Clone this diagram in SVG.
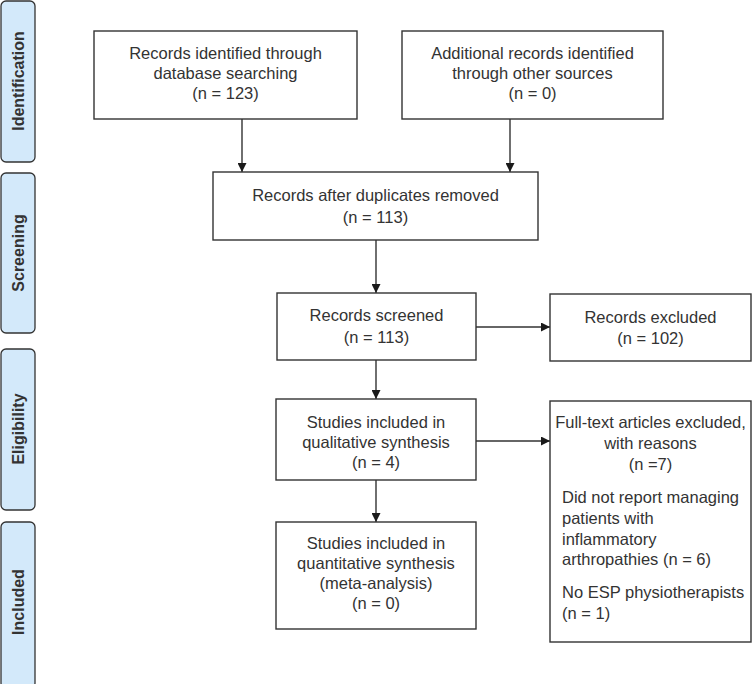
<svg xmlns="http://www.w3.org/2000/svg" width="752" height="684" viewBox="0 0 752 684">
<defs>
<marker id="ah" viewBox="0 0 10 10" refX="10" refY="5" markerWidth="9" markerHeight="9" markerUnits="userSpaceOnUse" orient="auto">
<path d="M0,0 L10,5 L0,10 z" fill="#1a1a1a"/>
</marker>
<style>
.bar{fill:#d3e9fa;stroke:#333;stroke-width:1.3}
.bt{font-family:"Liberation Sans",Arial,sans-serif;font-weight:bold;font-size:16px;fill:#333;text-anchor:middle}
.box{fill:#fff;stroke:#333;stroke-width:1.4}
.t{font-family:"Liberation Sans",Arial,sans-serif;font-size:16.5px;fill:#333;text-anchor:middle}
.tl{font-family:"Liberation Sans",Arial,sans-serif;font-size:16.5px;fill:#333}
.c{stroke:#333;stroke-width:1.4;fill:none;marker-end:url(#ah)}
</style>
</defs>
<rect width="752" height="684" fill="#fff"/>
<g id="stage-identification"><rect class="bar" x="1" y="1" width="34" height="161" rx="5"/><text class="bt" transform="translate(24,81) rotate(-90)">Identification</text></g>
<g id="stage-screening"><rect class="bar" x="1" y="173" width="34" height="160" rx="5"/><text class="bt" transform="translate(24,253) rotate(-90)">Screening</text></g>
<g id="stage-eligibility"><rect class="bar" x="1" y="349" width="34" height="161" rx="5"/><text class="bt" transform="translate(24,429) rotate(-90)">Eligibility</text></g>
<g id="stage-included"><rect class="bar" x="1" y="522" width="34" height="166" rx="5"/><text class="bt" transform="translate(24,602) rotate(-90)">Included</text></g>

<g id="connectors">
<line class="c" x1="242" y1="119" x2="242" y2="172"/>
<line class="c" x1="510" y1="119" x2="510" y2="172"/>
<line class="c" x1="376" y1="240" x2="376" y2="293"/>
<line class="c" x1="476" y1="327" x2="550" y2="327"/>
<line class="c" x1="376" y1="360" x2="376" y2="399"/>
<line class="c" x1="476" y1="441" x2="550" y2="441"/>
<line class="c" x1="376" y1="480" x2="376" y2="522"/>
</g>

<g id="n1"><rect class="box" x="94" y="31" width="263" height="88"/>
<text class="t" x="225.5" y="59">Records identified through</text>
<text class="t" x="225.5" y="79">database searching</text>
<text class="t" x="225.5" y="99">(n = 123)</text></g>

<g id="n2"><rect class="box" x="402" y="31" width="261" height="88"/>
<text class="t" x="532.5" y="59">Additional records identified</text>
<text class="t" x="532.5" y="79">through other sources</text>
<text class="t" x="532.5" y="99">(n = 0)</text></g>

<g id="n3"><rect class="box" x="213" y="172" width="325" height="68"/>
<text class="t" x="375.5" y="201">Records after duplicates removed</text>
<text class="t" x="375.5" y="223">(n = 113)</text></g>

<g id="n4"><rect class="box" x="277" y="293" width="199" height="67"/>
<text class="t" x="376.5" y="321">Records screened</text>
<text class="t" x="376.5" y="343">(n = 113)</text></g>

<g id="n5"><rect class="box" x="550" y="294" width="201" height="67"/>
<text class="t" x="650.5" y="323">Records excluded</text>
<text class="t" x="650.5" y="344">(n = 102)</text></g>

<g id="n6"><rect class="box" x="276" y="399" width="200" height="81"/>
<text class="t" x="376" y="428">Studies included in</text>
<text class="t" x="376" y="448">qualitative synthesis</text>
<text class="t" x="376" y="468">(n = 4)</text></g>

<g id="n7"><rect class="box" x="550" y="401" width="201" height="241"/>
<text class="t" x="650.5" y="428">Full-text articles excluded,</text>
<text class="t" x="650.5" y="449">with reasons</text>
<text class="t" x="650.5" y="470">(n =7)</text>
<text class="tl" x="562" y="503">Did not report managing</text>
<text class="tl" x="562" y="524">patients with</text>
<text class="tl" x="562" y="545">inflammatory</text>
<text class="tl" x="562" y="565">arthropathies (n = 6)</text>
<text class="tl" x="562" y="598">No ESP physiotherapists</text>
<text class="tl" x="562" y="619">(n = 1)</text></g>

<g id="n8"><rect class="box" x="276" y="522" width="200" height="107"/>
<text class="t" x="376" y="549">Studies included in</text>
<text class="t" x="376" y="569">quantitative synthesis</text>
<text class="t" x="376" y="589">(meta-analysis)</text>
<text class="t" x="376" y="609">(n = 0)</text></g>
</svg>
